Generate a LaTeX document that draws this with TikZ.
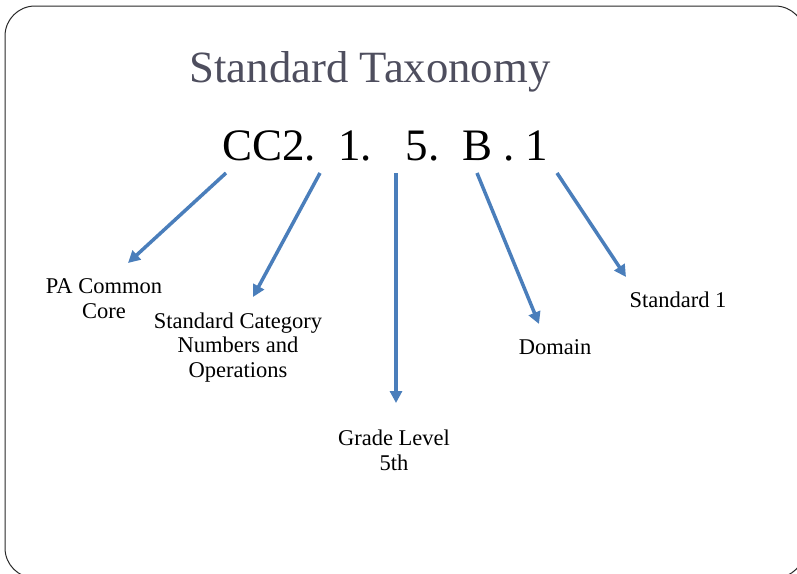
\documentclass[tikz,border=0pt]{standalone}
\usepackage{fontspec}
\setmainfont{Liberation Serif}
\usetikzlibrary{arrows.meta}
\definecolor{arrowblue}{RGB}{74,126,187}
\definecolor{titlegray}{RGB}{78,78,94}
\definecolor{framegray}{RGB}{40,40,40}

\begin{document}
\begin{tikzpicture}[x=1pt,y=-1pt,
  part/.style={align=center,inner sep=0pt,anchor=base,font=\fontsize{22.5}{24.5}\selectfont},
  arr/.style={draw=arrowblue,line width=3.5pt,-{Triangle[length=12pt,width=12pt]}}]
  % page and slide frame
  \useasboundingbox (0,0) rectangle (797,573);
  \draw[framegray,line width=1pt,rounded corners=30pt] (5,6) rectangle (805,578);
  % title and the code itself
  \node[titlegray,font=\fontsize{44.7}{50}\selectfont,inner sep=0pt,anchor=base] (title) at (370,82) {Standard Taxonomy};
  \node[font=\fontsize{45}{50}\selectfont,inner sep=0pt,anchor=base west] (code) at (222,160) {CC2.~~1.~~~5.~~B~.~1};
  % what each part stands for (base = last line)
  \node[part] (pa) at (104,318) {PA Common\\Core};
  \node[part] (cat) at (238,377) {Standard Category\\Numbers and\\Operations};
  \node[part] (grade) at (394,470) {Grade Level\\5th};
  \node[part] (domain) at (555,354) {Domain};
  \node[part] (std) at (678,307) {Standard 1};
  % arrow ends
  \coordinate (s1) at (226,173); \coordinate (t1) at (128,263);
  \coordinate (s2) at (320,173); \coordinate (t2) at (253,297);
  \coordinate (s3) at (396,173); \coordinate (t3) at (396,403);
  \coordinate (s4) at (477,173); \coordinate (t4) at (539,324);
  \coordinate (s5) at (557,173); \coordinate (t5) at (626,277);
  \foreach \i in {1,...,5} {
    \draw[arr] (s\i) -- (t\i);
  }
\end{tikzpicture}
\end{document}
